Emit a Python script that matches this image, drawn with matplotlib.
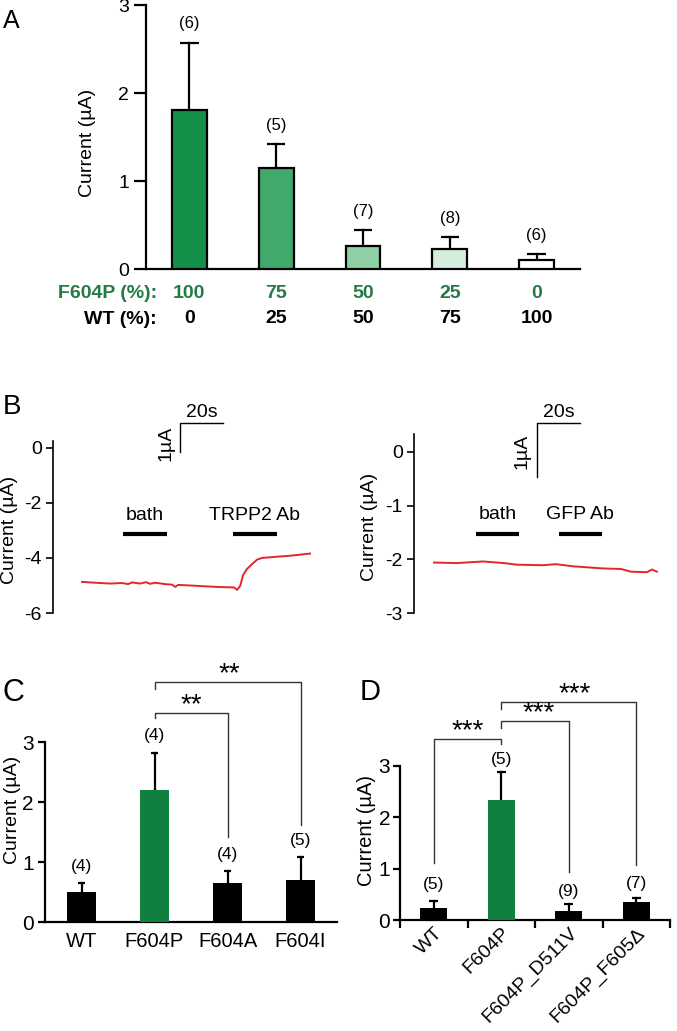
import matplotlib
matplotlib.use("Agg")
import matplotlib.pyplot as plt

plt.rcParams["font.family"] = ["Liberation Sans", "DejaVu Sans"]
plt.rcParams["axes.unicode_minus"] = False

W, H = 677, 1031

# ---- panel A data ----
a_means = [1.81, 1.15, 0.26, 0.23, 0.10]
a_err = [0.76, 0.27, 0.18, 0.13, 0.07]
a_n = [6, 5, 7, 8, 6]
a_f604p = ["100", "75", "50", "25", "0"]
a_wt = ["0", "25", "50", "75", "100"]
a_colors = ["#13904a", "#40a96b", "#8fcfa6", "#d4eddd", "#ffffff"]

# ---- panel B traces (time s, current uA) ----
b1_t = [0, 6.0, 13.0, 18.6, 21.4, 23.3, 27.0, 29.8, 31.6, 34.0, 38.6, 41.9, 43.3,
        44.7, 50.2, 57.2, 65.1, 70.7, 72.1, 73.5, 74.9, 76.7, 79.1, 81.4, 83.7,
        89.8, 96.7, 101.4, 106.0]
b1_v = [-4.87, -4.90, -4.93, -4.91, -4.95, -4.89, -4.93, -4.88, -4.94, -4.90, -4.95,
        -4.97, -5.05, -4.98, -5.00, -5.03, -5.06, -5.07, -5.16, -5.02, -4.62, -4.40,
        -4.22, -4.06, -4.00, -3.96, -3.92, -3.88, -3.84]
b2_t = [0, 10.7, 22.8, 32.6, 38.6, 50.7, 56.7, 64.7, 78.6, 87.0, 91.6, 99.1, 101.4, 103.7]
b2_v = [-2.06, -2.07, -2.04, -2.07, -2.10, -2.11, -2.09, -2.13, -2.17, -2.18, -2.23,
        -2.24, -2.19, -2.23]

# ---- panel C data ----
c_labels = ["WT", "F604P", "F604A", "F604I"]
c_means = [0.50, 2.20, 0.65, 0.70]
c_err = [0.15, 0.62, 0.20, 0.38]
c_n = [4, 4, 4, 5]

# ---- panel D data ----
d_labels = ["WT", "F604P", "F604P_D511V", "F604P_F605\u0394"]
d_means = [0.24, 2.34, 0.175, 0.34]
d_err = [0.12, 0.53, 0.145, 0.095]
d_n = [5, 5, 9, 7]

GREEN = "#107f40"
RED = "#e3262b"
GREY = "#333333"


def add_ax(x0, y0, x1, y1):
    return fig.add_axes([x0 / W, 1 - y1 / H, (x1 - x0) / W, (y1 - y0) / H])


def ftext(x, y, s, **kw):
    fig.text(x / W, 1 - y / H, s, **kw)


def up_err(ax, xs, means, errs, half, lw):
    # one-sided (upward) error bars, drawn behind the bars
    for x, m, e in zip(xs, means, errs):
        ax.plot([x, x], [m, m + e], color="black", lw=lw, zorder=2)
        ax.plot([x - half, x + half], [m + e, m + e], color="black", lw=lw, zorder=2,
                solid_capstyle="butt")


fig = plt.figure(figsize=(W / 100, H / 100), dpi=100)

# ================= A =================
ax = add_ax(146, 5, 580, 269)
xa = list(range(len(a_means)))
ax.bar(xa, a_means, width=0.4, color=a_colors, edgecolor="black", linewidth=1.6, zorder=3)
up_err(ax, xa, a_means, a_err, 0.105, 1.6)
for x, m, e, n in zip(xa, a_means, a_err, a_n):
    ax.annotate(f"({n})", (x, m + e), xytext=(0, 19), textcoords="offset pixels",
                ha="center", va="center", fontsize=12)
ax.set_xlim(-0.5, 4.5)
ax.set_ylim(0, 3)
ax.set_yticks([0, 1, 2, 3])
ax.set_xticks([])
for s in ["top", "right"]:
    ax.spines[s].set_visible(False)
for s in ["left", "bottom"]:
    ax.spines[s].set_linewidth(1.6)
ax.tick_params(axis="y", length=9, width=1.6, pad=3, labelsize=14)
for x, p, w in zip(xa, a_f604p, a_wt):
    ax.text(x, -0.091, p, transform=ax.get_xaxis_transform(), ha="center", va="center",
            fontsize=14, fontweight="bold", color="#237a44")
    ax.text(x, -0.189, w, transform=ax.get_xaxis_transform(), ha="center", va="center",
            fontsize=14, fontweight="bold", color="black")
ftext(157, 293, "F604P (%):", ha="right", va="center", fontsize=14,
      fontweight="bold", color="#237a44")
ftext(157, 319, "WT (%):", ha="right", va="center", fontsize=14, fontweight="bold")
ftext(88, 143, "Current (\u00b5A)", rotation=90, ha="center", va="center", fontsize=14)
ftext(3, 21, "A", ha="left", va="center", fontsize=18)


# ================= B =================
def trace_panel(ax, t, v, ylim, yticks, bars, labels, bar_y, lab_y, scale_x, scale_y0, scale_y1):
    ax.plot(t, v, color=RED, lw=1.4)
    ax.set_ylim(*ylim)
    ax.set_yticks(yticks)
    ax.set_xticks([])
    for s in ["top", "right", "bottom"]:
        ax.spines[s].set_visible(False)
    ax.spines["left"].set_linewidth(1.2)
    ax.tick_params(axis="y", length=5, width=1.2, pad=3, labelsize=14)
    for (b0, b1), lab in zip(bars, labels):
        ax.plot([b0, b1], [bar_y, bar_y], color="black", lw=3, solid_capstyle="butt")
        ax.text((b0 + b1) / 2, lab_y, lab, ha="center", va="center", fontsize=14)
    ax.plot([scale_x, scale_x, scale_x + 20], [scale_y0, scale_y1, scale_y1],
            color="black", lw=1.0, clip_on=False)


ax = add_ax(53, 441, 330, 613)
ax.set_xlim(-13.5, 115.3)
trace_panel(ax, b1_t, b1_v, (-6, 0.25), [0, -2, -4, -6], [(19, 39.5), (70, 90.5)],
            ["bath", "TRPP2 Ab"], -3.13, -2.44, 45.6, -0.145, 0.91)
ax.text(55.6, 1.27, "20s", ha="center", va="center", fontsize=14, clip_on=False)
ax.text(39.0, 0.18, "1\u00b5A", rotation=90, ha="center", va="center", fontsize=14)
ftext(10, 530, "Current (\u00b5A)", rotation=90, ha="center", va="center", fontsize=14)
ftext(3, 407, "B", ha="left", va="center", fontsize=20)

ax = add_ax(414, 434, 670, 613)
ax.set_xlim(-9.3, 109.8)
trace_panel(ax, b2_t, b2_v, (-3, 0.335), [0, -1, -2, -3], [(19.5, 39.5), (58, 78)],
            ["bath", "GFP Ab"], -1.53, -1.17, 47.9, -0.466, 0.54)
ax.text(57.9, 0.73, "20s", ha="center", va="center", fontsize=14, clip_on=False)
ax.text(41.0, 0.02, "1\u00b5A", rotation=90, ha="center", va="center", fontsize=14)
ftext(370, 527, "Current (\u00b5A)", rotation=90, ha="center", va="center", fontsize=14)

# ================= C =================
ax = add_ax(45, 652, 337, 922)
xc = list(range(len(c_means)))
ax.bar(xc, c_means, width=0.4, color=["black", GREEN, "black", "black"], zorder=3)
up_err(ax, xc, c_means, c_err, 0.045, 1.6)
for x, m, e, n in zip(xc, c_means, c_err, c_n):
    ax.annotate(f"({n})", (x, m + e), xytext=(0, 17), textcoords="offset pixels",
                ha="center", va="center", fontsize=12.5)
ax.set_xlim(-0.5, 3.5)
ax.set_ylim(0, 4.5)
ax.set_yticks([0, 1, 2, 3])
ax.set_xticks(xc)
ax.set_xticklabels(c_labels, fontsize=14.5)
for s in ["top", "right"]:
    ax.spines[s].set_visible(False)
ax.spines["left"].set_bounds(0, 3)
for s in ["left", "bottom"]:
    ax.spines[s].set_linewidth(1.6)
ax.tick_params(axis="y", length=5, width=1.6, pad=3, labelsize=15)
ax.tick_params(axis="x", length=0, pad=7)
# significance brackets
ax.plot([1, 1, 2, 2], [3.40, 3.48, 3.48, 1.42], color=GREY, lw=1.0)
ax.plot([1, 1, 3, 3], [3.88, 4.00, 4.00, 1.62], color=GREY, lw=1.0)
ax.text(1.51, 3.50, "**", ha="center", va="baseline", fontsize=20)
ax.text(2.03, 4.02, "**", ha="center", va="baseline", fontsize=20)
ftext(13, 810, "Current (\u00b5A)", rotation=90, ha="center", va="center", fontsize=14)
ftext(3, 693, "C", ha="left", va="center", fontsize=22)

# ================= D =================
ax = add_ax(400, 678, 670, 920)
xd = [0.5, 1.5, 2.5, 3.5]
ax.bar(xd, d_means, width=0.4, color=["black", GREEN, "black", "black"], zorder=3)
up_err(ax, xd, d_means, d_err, 0.065, 1.6)
for x, m, e, n, off in zip(xd, d_means, d_err, d_n, [17, 13, 12, 14]):
    ax.annotate(f"({n})", (x, m + e), xytext=(0, off), textcoords="offset pixels",
                ha="center", va="center", fontsize=12.5)
ax.set_xlim(0, 4)
ax.set_ylim(0, 4.7)
ax.set_yticks([0, 1, 2, 3])
ax.set_xticks([0, 1, 2, 3, 4])
ax.set_xticklabels([])
ax.set_xticks(xd, minor=True)
ax.set_xticklabels(d_labels, minor=True, rotation=45, ha="right",
                   rotation_mode="anchor", fontsize=14)
for s in ["top", "right"]:
    ax.spines[s].set_visible(False)
ax.spines["left"].set_bounds(0, 3)
for s in ["left", "bottom"]:
    ax.spines[s].set_linewidth(1.6)
ax.tick_params(axis="y", length=5, width=1.6, pad=2, labelsize=15)
ax.tick_params(axis="x", which="major", length=6, width=1.6)
ax.tick_params(axis="x", which="minor", length=0, pad=3)
ax.plot([0.5, 0.5, 1.5, 1.5], [1.10, 3.51, 3.51, 3.41], color=GREY, lw=1.0)
ax.plot([1.5, 1.5, 2.5, 2.5], [3.72, 3.86, 3.86, 0.94], color=GREY, lw=1.0)
ax.plot([1.5, 1.5, 3.5, 3.5], [4.09, 4.23, 4.23, 1.07], color=GREY, lw=1.0)
ax.text(1.0, 3.53, "***", ha="center", va="baseline", fontsize=20)
ax.text(2.06, 3.88, "***", ha="center", va="baseline", fontsize=20)
ax.text(2.59, 4.25, "***", ha="center", va="baseline", fontsize=20)
ftext(367, 830, "Current (\u00b5A)", rotation=90, ha="center", va="center", fontsize=14.5)
ftext(360, 692, "D", ha="left", va="center", fontsize=21)

fig.savefig("out.png", dpi=100)
